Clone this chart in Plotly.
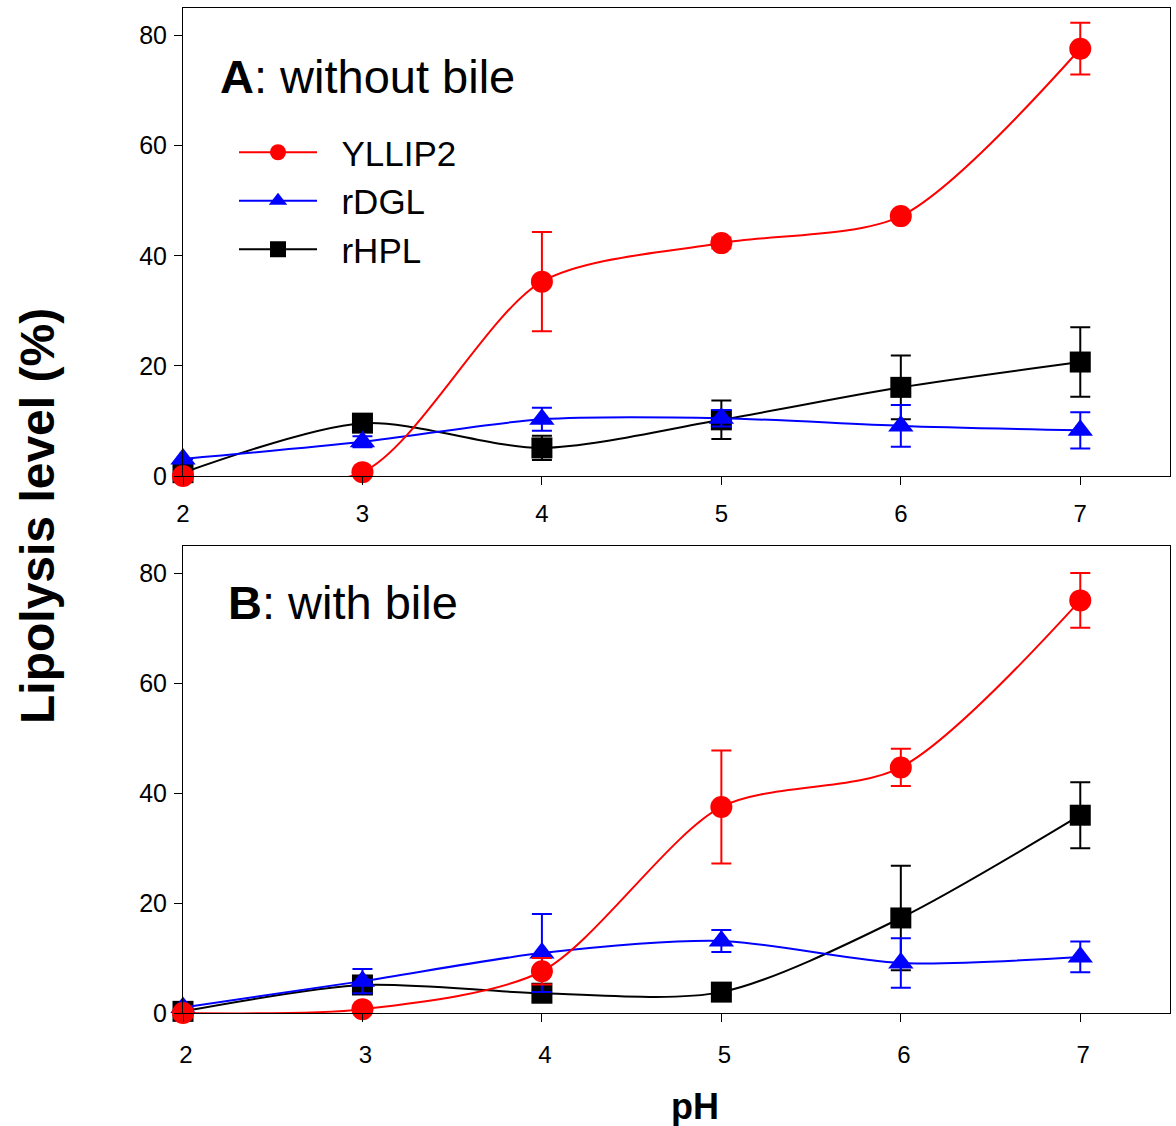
import plotly.graph_objects as go

# ---- data ----
pH = [2, 3, 4, 5, 6, 7]

A_yllip2 = [0.0, 0.7, 35.3, 42.3, 47.2, 77.6]
A_yllip2_err = [0.0, 0.0, 9.0, 1.0, 0.8, 4.7]
A_rdgl = [3.1, 6.2, 10.3, 10.5, 9.1, 8.3]
A_rdgl_err = [0.0, 1.0, 2.1, 1.5, 3.8, 3.3]
A_rhpl = [0.6, 9.6, 5.1, 10.2, 16.1, 20.7]
A_rhpl_err = [0.0, 0.8, 2.2, 3.5, 5.8, 6.3]

B_yllip2 = [0.0, 0.7, 7.6, 37.5, 44.7, 75.1]
B_yllip2_err = [0.0, 0.0, 2.4, 10.3, 3.4, 5.0]
B_rdgl = [1.0, 5.8, 10.9, 13.1, 9.1, 10.2]
B_rdgl_err = [0.0, 2.2, 7.1, 2.0, 4.5, 2.8]
B_rhpl = [0.3, 5.1, 3.6, 3.8, 17.3, 36.0]
B_rhpl_err = [0.0, 0.5, 0.5, 0.5, 9.5, 6.0]

series_names = ["YLLIP2", "rDGL", "rHPL"]
colors = ["#ff0000", "#0000ff", "#000000"]
symbols = ["circle", "triangle-up", "square"]
sizes = [22, 22, 21]

x_ticks = [2, 3, 4, 5, 6, 7]
y_ticks = [0, 20, 40, 60, 80]

FONT = "Liberation Sans, Arial, sans-serif"

fig = go.Figure()

panels = [
    ("x", "y", [A_yllip2, A_rdgl, A_rhpl], [A_yllip2_err, A_rdgl_err, A_rhpl_err], True),
    ("x2", "y2", [B_yllip2, B_rdgl, B_rhpl], [B_yllip2_err, B_rdgl_err, B_rhpl_err], False),
]

NBSP = "\u00a0"
for xa, ya, vals, errs, show in panels:
    # draw in order so red ends on top of others at pH 2
    for i in [2, 1, 0]:
        fig.add_trace(go.Scatter(
            x=pH, y=vals[i], xaxis=xa, yaxis=ya,
            name=NBSP * 2 + series_names[i], legendrank=i + 1,
            mode="lines+markers",
            line=dict(color=colors[i], width=2, shape="spline", smoothing=0.8),
            marker=dict(symbol=symbols[i], size=sizes[i], color=colors[i],
                        line=dict(width=0)),
            error_y=dict(type="data", array=errs[i], visible=True,
                         color=colors[i], thickness=2, width=10),
            showlegend=show, cliponaxis=False,
        ))

W, H = 1176, 1126
xdom = [183 / W, 1170 / W]
ydomA = [1 - 476 / H, 1 - 8 / H]
ydomB = [1 - 1013 / H, 1 - 546 / H]

xcommon = dict(range=[2, 7.5], tickvals=x_ticks, ticks="outside", ticklen=8,
               tickwidth=1, tickcolor="#000", showline=True, linecolor="#000",
               linewidth=1, mirror=True, showgrid=False, zeroline=False,
               tickfont=dict(family=FONT, size=24, color="#000"),
               domain=xdom, automargin=False)
ycommon = dict(range=[0, 85], tickvals=y_ticks, ticks="outside", ticklen=8,
               tickwidth=1, tickcolor="#000", showline=True, linecolor="#000",
               linewidth=1, mirror=True, showgrid=False, zeroline=False,
               tickfont=dict(family=FONT, size=25, color="#000"),
               ticklabelstandoff=2, automargin=False)

fig.update_layout(
    width=W, height=H,
    margin=dict(l=0, r=0, t=0, b=0, autoexpand=False),
    paper_bgcolor="white", plot_bgcolor="white",
    font=dict(family=FONT, color="#000"),
    xaxis=dict(**xcommon, anchor="y", ticklabelstandoff=8),
    yaxis=dict(**ycommon, domain=ydomA, anchor="x"),
    xaxis2=dict(**xcommon, anchor="y2", ticklabelstandoff=12, ticklabelshift=3),
    yaxis2=dict(**ycommon, domain=ydomB, anchor="x2"),
    legend=dict(x=234 / W, y=1 - 123 / H, xanchor="left", yanchor="top",
                font=dict(family=FONT, size=35, color="#000"),
                bgcolor="rgba(0,0,0,0)", itemwidth=78, tracegroupgap=0),
    annotations=[
        dict(text="<b>A</b>: without bile", xref="paper", yref="paper",
             x=218 / W, y=1 - 77 / H, xanchor="left", yanchor="middle",
             showarrow=False, font=dict(family=FONT, size=47, color="#000")),
        dict(text="<b>B</b>: with bile", xref="paper", yref="paper",
             x=226 / W, y=1 - 602 / H, xanchor="left", yanchor="middle",
             showarrow=False, font=dict(family=FONT, size=47, color="#000")),
        dict(text="<b>Lipolysis level (%)</b>", xref="paper", yref="paper",
             x=38 / W, y=1 - 516 / H, xanchor="center", yanchor="middle",
             textangle=-90, showarrow=False,
             font=dict(family=FONT, size=48, color="#000")),
        dict(text="<b>pH</b>", xref="paper", yref="paper",
             x=695 / W, y=1 - 1106 / H, xanchor="center", yanchor="middle",
             showarrow=False, font=dict(family=FONT, size=36, color="#000")),
    ],
)

fig.write_html("out.html")
